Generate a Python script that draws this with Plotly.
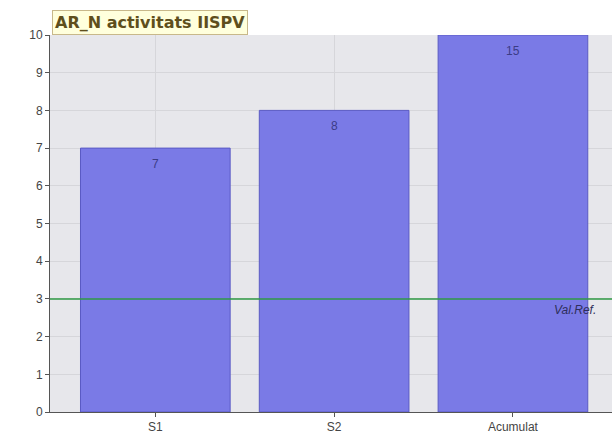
import plotly.graph_objects as go

categories = ["S1", "S2", "Acumulat"]
values = [7, 8, 15]
y_ticks = [0, 1, 2, 3, 4, 5, 6, 7, 8, 9, 10]
y_max = 10
ref_value = 3
ref_label = "Val.Ref."
title_text = "AR_N activitats IISPV"

shown = [min(v, y_max) for v in values]

fig = go.Figure()
fig.add_trace(go.Bar(
    x=categories, y=shown, width=0.837,
    marker=dict(color="#7a7ae6", line=dict(color="#5a5ac4", width=1)),
    hoverinfo="skip",
))

for c, v, s in zip(categories, values, shown):
    fig.add_annotation(x=c, y=s, text=str(v), showarrow=False,
                       yanchor="top", yshift=-7,
                       font=dict(family="Liberation Sans, Arial", size=12, color="#3c3c86"))

fig.add_shape(type="line", xref="paper", x0=0, x1=1, yref="y", y0=ref_value, y1=ref_value,
              line=dict(color="#2f9a45", width=1.5))
fig.add_annotation(x=2.22, y=ref_value, xref="x", yref="y", text="<i>" + ref_label + "</i>",
                   showarrow=False, xanchor="left", yanchor="top", yshift=-2,
                   font=dict(family="Liberation Sans, Arial", size=12, color="#2e2e5a"))

fig.add_annotation(xref="paper", yref="paper", x=0.003, y=1.0, xanchor="left", yanchor="bottom",
                   text="<b>" + title_text + "</b>", showarrow=False,
                   font=dict(family="DejaVu Sans", size=16, color="#5e4e1c"),
                   bgcolor="#ffffdc", bordercolor="#c8b88a", borderwidth=1, borderpad=2)

fig.update_layout(
    width=612, height=443,
    margin=dict(l=50, r=0, t=35, b=31),
    paper_bgcolor="white", plot_bgcolor="#e7e7eb",
    showlegend=False,
    font=dict(family="Liberation Sans, Arial", size=11, color="#444"),
)
fig.update_xaxes(range=[-0.589, 2.554], showgrid=True, gridcolor="#d6d6da",
                 ticks="outside", ticklen=4, tickcolor="#555",
                 showline=True, linecolor="#555", linewidth=1,
                 tickfont=dict(size=12, color="#444"))
fig.update_yaxes(range=[0, y_max], tickvals=y_ticks, showgrid=True, gridcolor="#d6d6da",
                 ticks="outside", ticklen=4, tickcolor="#555",
                 showline=True, linecolor="#555", linewidth=1, zeroline=False,
                 tickfont=dict(size=12, color="#444"))

fig.write_html("out.html", config={"displayModeBar": False},
               post_script="document.body.style.margin='0';document.body.style.overflow='hidden';")
